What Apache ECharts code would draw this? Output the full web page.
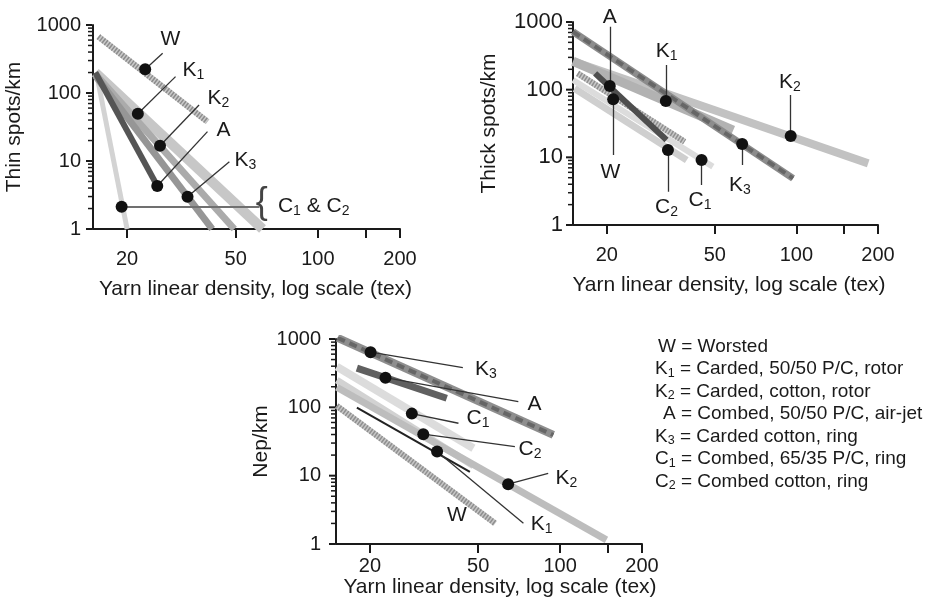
<!DOCTYPE html>
<html><head><meta charset="utf-8">
<script src="https://cdn.jsdelivr.net/npm/echarts@6/dist/echarts.min.js"></script>
<style>html,body{margin:0;padding:0;background:#fff}#c{width:929px;height:605px}</style>
</head><body><div id="c"></div><script>
const FONT = '"Liberation Sans", Arial, Helvetica, sans-serif';
const TXT = '#1a1a1a';

// ---- axis ticks ----
const xMin = 15, xMax = 200, yMin = 1, yMax = 1000;
const xTickValues = [20, 50, 100, 150, 200];
const xLabelValues = [20, 50, 100, 200];
const yLabelValues = [1, 10, 100, 1000];
const yMinorValues = [2,3,4,5,6,7,8,9,20,30,40,50,60,70,80,90,200,300,400,500,600,700,800,900];
const panelTitles = ['Thin spots/km', 'Thick spots/km', 'Nep/km'];
const xTitle = 'Yarn linear density, log scale (tex)';

// ---- Panel 1: thin spots/km ----
const thinW  = [[15.7, 673], [39.4, 37.8]];
const thinK1 = [[15.3, 200], [62.7, 1]];
const thinK2 = [[15.3, 190], [49.4, 1]];
const thinK3 = [[15.3, 180], [41, 1]];
const thinA  = [[15.3, 200], [25.8, 4.3]];
const thinC  = [[15.5, 180], [20, 1]];
const thinNames = ['W', 'K1', 'K2', 'A', 'K3', 'C1 & C2'];
const thinDots = [[23.3, 223], [21.9, 49.6], [26.4, 16.8], [25.8, 4.29], [33.3, 2.99], [19.1, 2.13]];
const thinLeaderEnds = [[27.0, 384], [30.1, 174], [36.7, 66.6], [39.4, 27.0], [47.4, 9.77], [61.1, 2.13]];
const thinLabelAt = [[28.8, 622], [35.0, 218], [43.2, 84.4], [45.1, 28.6], [54.3, 10.3], [96.6, 2.18]];
const thinBraceAt = [62.3, 2.41];

// ---- Panel 2: thick spots/km ----
const thickK3 = [[15, 717], [97.2, 4.9]];
const thickK2 = [[15.2, 258], [184, 8.15]];
const thickK1 = [[15, 263], [58.5, 25.3]];
const thickA  = [[18.1, 174], [33.2, 18.0]];
const thickW  = [[15.6, 174], [38.7, 17.0]];
const thickC2 = [[15.2, 104], [39.4, 9.1]];
const thickC1 = [[15, 139], [49.2, 7.3]];
const thickNames = ['A', 'W', 'K1', 'K2', 'K3', 'C2', 'C1'];
const thickDots = [[20.5, 113], [21.1, 71.9], [33.0, 67.9], [95.3, 20.6], [63.1, 15.7], [33.6, 12.8], [44.7, 9.1]];
const thickLeaderEnds = [[20.5, 849], [21.1, 10.8], [33.0, 231], [95.3, 83.2], [63.1, 7.7], [33.6, 3.10], [44.7, 3.9]];
const thickLabelAt = [[20.5, 1194], [20.6, 6.1], [33.2, 370], [94.6, 131], [61.9, 3.9], [33.2, 1.86], [44.1, 2.34]];

// ---- Panel 3: nep/km ----
const nepK3 = [[15.2, 1040], [94.4, 39.4]];
const nepA  = [[17.9, 374], [38.3, 136]];
const nepC1 = [[15.1, 394], [48, 25.2]];
const nepC2 = [[15.1, 250], [48, 14]];
const nepK2 = [[15.1, 197], [148, 1.15]];
const nepK1 = [[17.9, 99], [46.6, 11.4]];
const nepW  = [[15.1, 105], [57.7, 2.0]];
const nepNames = ['K3', 'A', 'C1', 'C2', 'K2', 'K1', 'W'];
const nepDots = [[20.1, 641], [22.8, 272], [28.5, 80.9], [31.4, 40.4], [64.4, 7.5], [35.3, 22.5]];
const nepLeaderEnds = [[43.9, 381], [70.2, 121], [42.3, 58.5], [68.2, 26.6], [90.4, 10.8], [73.3, 2.01]];
const nepLabelAt = [[53.3, 365], [80.5, 112], [49.9, 70], [77.5, 24.6], [105.4, 9.25], [85.5, 1.96], [41.7, 2.66]];

// ---- key ----
const legendKeys = ['W', 'K1', 'K2', 'A', 'K3', 'C1', 'C2'];
const legendTexts = ['Worsted', 'Carded, 50/50 P/C, rotor', 'Carded, cotton, rotor', 'Combed, 50/50 P/C, air-jet',
  'Carded cotton, ring', 'Combed, 65/35 P/C, ring', 'Combed cotton, ring'];

function toRich(s) {
  let out = '', last = 0, m; const re = /\d/g;
  while ((m = re.exec(s))) {
    if (m.index > last) out += '{m|' + s.slice(last, m.index) + '}';
    out += '{s|' + m[0] + '}';
    last = m.index + 1;
  }
  if (last < s.length) out += '{m|' + s.slice(last) + '}';
  return out;
}

const grids = [
  {left: 93, top: 25, width: 307, height: 204},
  {left: 573, top: 22, width: 305, height: 203},
  {left: 336, top: 339, width: 306, height: 205}
];
const xMargins = [20, 20, 12], xNameGaps = [50, 50, 33], xNamePad = [18, 7, 22];
const yMargins = [12, 10, 15], yNameGaps = [68, 73, 64], yLabelSizes = [20, 22, 20];

const xAxis = grids.map((g, i) => ({
  type: 'log', logBase: 10, gridIndex: i, min: xMin, max: xMax,
  axisLine: {show: true, onZero: false, lineStyle: {color: TXT, width: 2}},
  axisTick: {show: true, customValues: xTickValues, length: 9, lineStyle: {color: TXT, width: 2}},
  axisLabel: {customValues: xLabelValues, margin: xMargins[i], fontSize: 20, color: TXT, fontFamily: FONT,
    formatter: v => String(v)},
  splitLine: {show: false}, minorTick: {show: false},
  name: xTitle, nameLocation: 'middle', nameGap: xNameGaps[i],
  nameTextStyle: {fontSize: 21, color: TXT, fontFamily: FONT, padding: [0, 0, 0, xNamePad[i]]}
}));

const yAxis = grids.map((g, i) => ({
  type: 'log', logBase: 10, gridIndex: i, min: yMin, max: yMax,
  axisLine: {show: true, onZero: false, lineStyle: {color: TXT, width: 2}},
  axisTick: {show: false},
  axisLabel: {customValues: yLabelValues, margin: yMargins[i], fontSize: yLabelSizes[i], color: TXT, fontFamily: FONT,
    formatter: v => String(v)},
  splitLine: {show: false}, minorTick: {show: false},
  name: panelTitles[i], nameLocation: 'middle', nameGap: yNameGaps[i],
  nameTextStyle: {fontSize: 21, color: TXT, fontFamily: FONT}
}));

const series = [];
// y-axis tick marks (decades long, 2..9 short), placed on the axis through the y scale
function yTicks(g) {
  [[yLabelValues, 6, 2], [yMinorValues, 4, 1.5]].forEach(([vals, len, w]) => {
    series.push({
      type: 'scatter', xAxisIndex: g, yAxisIndex: g, silent: true, z: 6, clip: false,
      symbol: 'rect', symbolSize: [len, w], symbolOffset: [-len / 2 - 1, 0],
      itemStyle: {color: TXT, opacity: 1},
      data: vals.map(v => [xMin, v])
    });
  });
}
function band(g, data, color, width, dash) {
  series.push({
    type: 'line', xAxisIndex: g, yAxisIndex: g, data: data, symbol: 'none', silent: true,
    lineStyle: {color: color, width: width, cap: 'butt', type: dash || 'solid', opacity: 1}, z: 2
  });
}
function leaders(g, dots, ends, color, width) {
  series.push({
    type: 'lines', coordinateSystem: 'cartesian2d', xAxisIndex: g, yAxisIndex: g, silent: true, z: 3,
    lineStyle: {color: color, width: width, opacity: 1},
    data: ends.map((e, k) => ({coords: [dots[k], e]}))
  });
}
function dots(g, pts) {
  series.push({
    type: 'scatter', xAxisIndex: g, yAxisIndex: g, data: pts, symbolSize: 12, silent: true, z: 4,
    itemStyle: {color: '#111', opacity: 1}, clip: false
  });
}
const labelRich = {
  m: {fontSize: 21, fontFamily: FONT, color: TXT, lineHeight: 24},
  s: {fontSize: 14, fontFamily: FONT, color: TXT, lineHeight: 10, verticalAlign: 'bottom'}
};
function labels(g, pos, names) {
  series.push({
    type: 'scatter', xAxisIndex: g, yAxisIndex: g, symbolSize: 0, silent: true, z: 5, clip: false,
    itemStyle: {opacity: 1},
    data: pos.map((p, k) => ({value: p, name: names[k]})),
    label: {show: true, position: 'inside', color: TXT, textBorderWidth: 0, formatter: p => toRich(p.name), rich: labelRich}
  });
}

// Panel 1
band(0, thinC, '#d3d3d3', 5);
band(0, thinK1, '#c7c7c7', 10);
band(0, thinK2, '#ababab', 7);
band(0, thinK3, '#969696', 7);
band(0, thinW, '#cacaca', 6);
band(0, thinW, '#8c8c8c', 6, [1.5, 1.5]);
band(0, thinA, '#555555', 6);
leaders(0, thinDots.slice(0, 5), thinLeaderEnds.slice(0, 5), '#333', 1.3);
leaders(0, thinDots.slice(5), thinLeaderEnds.slice(5), '#707070', 2);
dots(0, thinDots);
labels(0, thinLabelAt, thinNames);
series.push({
  type: 'scatter', xAxisIndex: 0, yAxisIndex: 0, symbolSize: 0, silent: true, z: 5, clip: false,
  itemStyle: {opacity: 1},
  data: [{value: thinBraceAt, name: 'brace'}],
  label: {show: true, position: 'inside', formatter: '{', fontSize: 36, color: '#444', textBorderWidth: 0, fontFamily: FONT}
});
yTicks(0);

// Panel 2
band(1, thickC1, '#dcdcdc', 6);
band(1, thickC2, '#cfcfcf', 7);
band(1, thickK2, '#c2c2c2', 8);
band(1, thickK1, '#b2b2b2', 9);
band(1, thickK3, '#8c8c8c', 7);
band(1, thickK3, '#666666', 4, [8, 5]);
band(1, thickW, '#c8c8c8', 6);
band(1, thickW, '#8f8f8f', 6, [1.5, 1.5]);
band(1, thickA, '#4e4e4e', 6);
leaders(1, thickDots, thickLeaderEnds, '#333', 1.3);
dots(1, thickDots);
labels(1, thickLabelAt, thickNames);
yTicks(1);

// Panel 3
band(2, nepC1, '#dcdcdc', 8);
band(2, nepC2, '#d2d2d2', 7);
band(2, nepK2, '#bdbdbd', 7);
band(2, nepW, '#c6c6c6', 6);
band(2, nepW, '#8f8f8f', 6, [1.5, 1.5]);
band(2, nepK3, '#8e8e8e', 8);
band(2, nepK3, '#666666', 4, [8, 5]);
band(2, nepA, '#606060', 7);
band(2, nepK1, '#222222', 2);
leaders(2, nepDots, nepLeaderEnds, '#333', 1.3);
dots(2, nepDots);
labels(2, nepLabelAt, nepNames);
yTicks(2);

// key text
const legendX = [658, 655, 655, 663, 655, 655, 655];
const legendRich = {
  m: {fontSize: 19, fontFamily: FONT, fill: TXT, lineHeight: 22},
  s: {fontSize: 12.5, fontFamily: FONT, fill: TXT, lineHeight: 9, verticalAlign: 'bottom'}
};
const graphic = legendKeys.map((k, i) => ({
  type: 'text', left: legendX[i], top: 337 + i * 22.5, silent: true,
  style: {text: toRich(k) + '{m| = ' + legendTexts[i] + '}', rich: legendRich, font: '19px ' + FONT, fill: TXT}
}));

const chart = echarts.init(document.getElementById('c'));
chart.setOption({
  animation: false,
  backgroundColor: '#fff',
  grid: grids,
  xAxis: xAxis,
  yAxis: yAxis,
  series: series,
  graphic: graphic
});
</script></body></html>
